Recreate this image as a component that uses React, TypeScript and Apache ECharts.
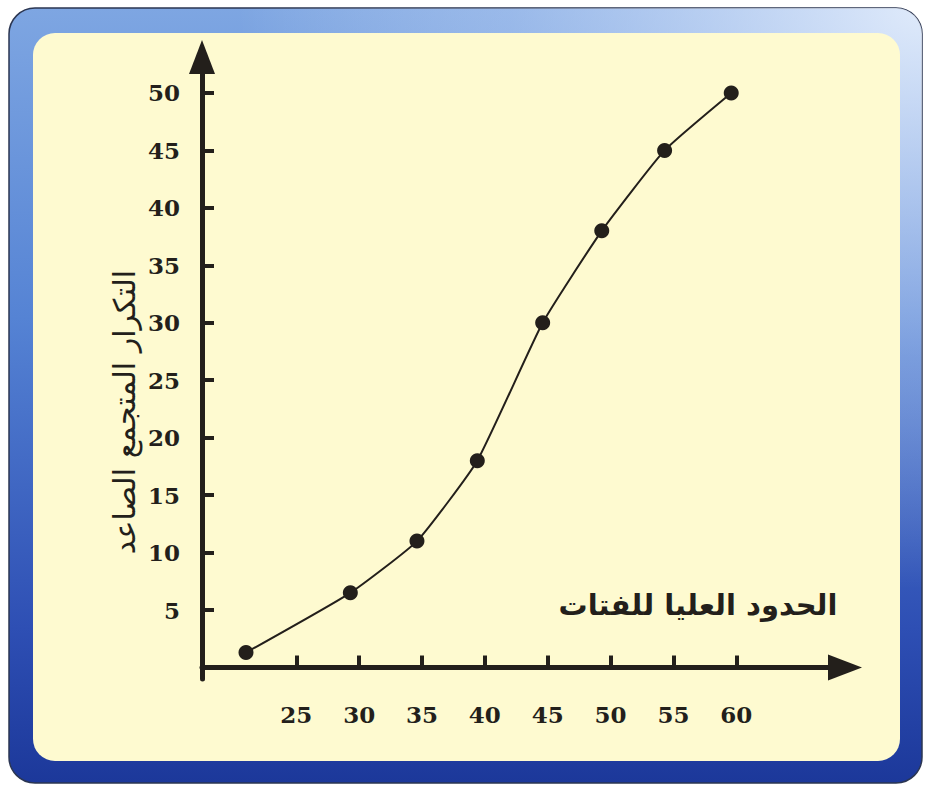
import React, { useEffect, useRef } from "react";
import * as echarts from "echarts";

// Data
const upperBounds = [21, 29.3, 34.6, 39.4, 44.6, 49.3, 54.3, 59.6];
const cumulativeFreq = [1.3, 6.5, 11, 18, 30, 38, 45, 50];
const xTickValues = [25, 30, 35, 40, 45, 50, 55, 60];
const yTickValues = [5, 10, 15, 20, 25, 30, 35, 40, 45, 50];
const xAxisTitle = "الحدود العليا للفتات";
const yAxisTitle = "التكرار المتجمع الصاعد";

const INK = "#231f1b";

export default function App() {
  const ref = useRef<HTMLDivElement>(null);

  useEffect(() => {
    if (!ref.current) return;
    const chart = echarts.init(ref.current, null, { renderer: "svg" });
    const points = upperBounds.map((x, i) => [x, cumulativeFreq[i]]);

    chart.setOption({
      animation: false,
      backgroundColor: "#ffffff",
      grid: { left: 202, top: 57, width: 643, height: 622, containLabel: false },
      xAxis: {
        type: "value",
        min: 17.5,
        max: 68.65,
        splitLine: { show: false },
        axisLine: {
          show: true,
          lineStyle: { color: INK, width: 5 },
          symbol: ["none", "triangle"],
          symbolSize: [26, 34],
        },
        axisTick: {
          show: true,
          inside: true,
          length: 12,
          lineStyle: { color: INK, width: 4 },
          customValues: xTickValues,
        },
        axisLabel: {
          show: true,
          margin: 24,
          color: INK,
          fontFamily: "DejaVu Serif",
          fontWeight: "bold",
          fontSize: 23,
          customValues: xTickValues,
        },
      },
      yAxis: {
        type: "value",
        min: -1,
        max: 53.13,
        splitLine: { show: false },
        axisLine: {
          show: true,
          lineStyle: { color: INK, width: 5 },
          symbol: ["none", "triangle"],
          symbolSize: [26, 34],
        },
        axisTick: {
          show: true,
          inside: true,
          length: 12,
          lineStyle: { color: INK, width: 4 },
          customValues: yTickValues,
        },
        axisLabel: {
          show: true,
          margin: 22,
          color: INK,
          fontFamily: "DejaVu Serif",
          fontWeight: "bold",
          fontSize: 23,
          customValues: yTickValues,
        },
      },
      series: [
        {
          type: "line",
          data: points,
          smooth: 0.15,
          symbol: "circle",
          symbolSize: 15,
          itemStyle: { color: INK },
          lineStyle: { color: INK, width: 2 },
          z: 5,
        },
      ],
      graphic: [
        {
          type: "rect",
          z: -20,
          silent: true,
          shape: { x: 9, y: 8, width: 913, height: 775, r: 26 },
          style: {
            fill: new echarts.graphic.LinearGradient(0, 0, 0, 1, [
              { offset: 0, color: "#7ea6e2" },
              { offset: 0.4, color: "#5583d4" },
              { offset: 0.8, color: "#2e4fb4" },
              { offset: 1, color: "#1c389a" },
            ]),
            stroke: "#2b3652",
            lineWidth: 1.5,
          },
        },
        {
          type: "rect",
          z: -19,
          silent: true,
          shape: { x: 9, y: 8, width: 913, height: 775, r: 26 },
          style: {
            fill: new echarts.graphic.RadialGradient(1, 0, 0.75, [
              { offset: 0, color: "rgba(240,246,255,0.85)" },
              { offset: 0.6, color: "rgba(220,232,252,0.3)" },
              { offset: 1, color: "rgba(255,255,255,0)" },
            ]),
          },
        },
        {
          type: "rect",
          z: -18,
          silent: true,
          shape: { x: 33, y: 33, width: 867, height: 728, r: 22 },
          style: { fill: "#fefad0" },
        },
        {
          type: "text",
          z: 10,
          silent: true,
          x: 698,
          y: 605,
          style: {
            text: xAxisTitle,
            fill: INK,
            font: "bold 29px 'DejaVu Sans'",
            align: "center",
            verticalAlign: "middle",
          },
        },
        {
          type: "text",
          z: 10,
          silent: true,
          x: 124,
          y: 412,
          rotation: Math.PI / 2,
          style: {
            text: yAxisTitle,
            fill: INK,
            font: "30px 'DejaVu Sans'",
            align: "center",
            verticalAlign: "middle",
          },
        },
      ],
    });

    return () => chart.dispose();
  }, []);

  return (
    <div
      ref={ref}
      style={{ position: "fixed", left: 0, top: 0, width: 926, height: 785 }}
    />
  );
}
